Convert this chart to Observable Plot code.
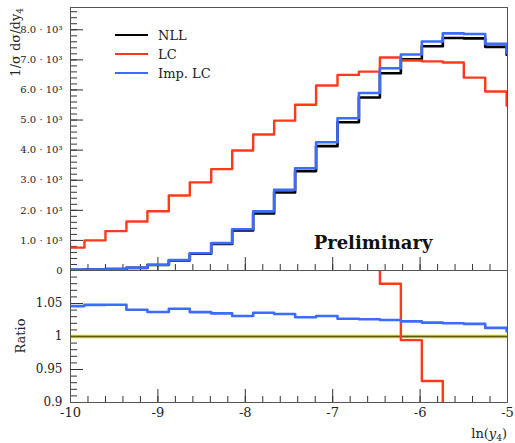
<!DOCTYPE html>
<html><head><meta charset="utf-8">
<script src="https://cdn.jsdelivr.net/npm/d3@7"></script>
<script src="https://cdn.jsdelivr.net/npm/@observablehq/plot@0.6"></script>
<style>
body{margin:0;background:#fff}
#chart{position:relative;width:515px;height:443px;font-family:"DejaVu Serif",serif}
#chart svg{position:absolute;left:0;overflow:visible}
</style></head><body><div id="chart"></div>
<script>
// bin edges in ln(y4)
const binEdges = [-10, -9.84, -9.60, -9.36, -9.12, -8.875, -8.635, -8.39, -8.15, -7.91, -7.67, -7.43, -7.19, -6.945, -6.70, -6.46, -6.22, -5.98, -5.74, -5.50, -5.255, -5.01, -5];
// 1/sigma dsigma/dy4 per bin
const nll   = [23.9, 33.4, 47.7, 86.5, 183.2, 335.9, 554.5, 879.2, 1328.8, 1896.7, 2591.9, 3304, 4132, 4927, 5750, 6556, 7019, 7453, 7725, 7713, 7433, 7173];
const lc    = [760, 1000, 1310, 1630, 1970, 2490, 2930, 3370, 3990, 4520, 4980, 5510, 6150, 6500, 6610, 7080, 6980, 6950, 6910, 6410, 5950, 5480];
const impLC = [25, 35, 50, 90, 190, 350, 575, 910, 1370, 1965, 2680, 3400, 4260, 5060, 5900, 6720, 7180, 7610, 7880, 7860, 7530, 7230];
// ticks
const xMajorTicks = [-10, -9, -8, -7, -6, -5];
const xMinorTicks = d3.range(-10, -5.001, 0.2);
const yMainTicks = [0, 1000, 2000, 3000, 4000, 5000, 6000, 7000, 8000];
const yMainMinor = d3.range(0, 8740, 200);
const yRatioTicks = [0.9, 0.95, 1, 1.05, 1.1];
const yRatioLabels = [0.9, 0.95, 1, 1.05];
const yRatioMinor = d3.range(0.9, 1.1001, 0.01);

const seriesNames = ["NLL", "LC", "Imp. LC"];
const seriesColors = ["#000000", "#ff3a1c", "#3b6cff"];

function steps(values) {
  const pts = values.map((v, i) => ({x: binEdges[i], y: v}));
  pts.push({x: binEdges[values.length], y: values[values.length - 1]});
  return pts;
}
const ratioImp = impLC.map((v, i) => v / nll[i]);
const ratioLC = lc.map((v, i) => v / nll[i]);
const ratioNLL = nll.map(() => 1);

const W = 515, ML = 70, MR = 8;
const PW = W - ML - MR;
const tickC = "#333";
const fmtMain = d => d === 0 ? "0" : `${(d / 1000).toFixed(1)} · 10³`;

const topH = 270, topMT = 7;
const topPH = topH - topMT;
const topPlot = Plot.plot({
  width: W, height: topH, marginLeft: ML, marginRight: MR, marginTop: topMT, marginBottom: 0,
  x: {domain: [-10, -5], axis: null},
  y: {domain: [0, 8740], axis: null},
  style: {fontFamily: "DejaVu Serif", background: "transparent", overflow: "visible"},
  marks: [
    Plot.ruleY(yMainMinor, {stroke: tickC, insetRight: PW - 7}),
    Plot.ruleY(yMainTicks, {stroke: tickC, insetRight: PW - 13}),
    Plot.ruleX(xMinorTicks, {stroke: tickC, insetTop: topPH - 6}),
    Plot.ruleX(xMajorTicks, {stroke: tickC, insetTop: topPH - 13}),
    Plot.axisY(yMainTicks, {tickSize: 0, tickPadding: 8, tickFormat: fmtMain, fontSize: 10, fill: "#222", label: null}),
    Plot.line(steps(nll), {x: "x", y: "y", curve: "step-after", stroke: seriesColors[0], strokeWidth: 2.6, clip: true}),
    Plot.line(steps(lc), {x: "x", y: "y", curve: "step-after", stroke: seriesColors[1], strokeWidth: 2.4, clip: true}),
    Plot.line(steps(impLC), {x: "x", y: "y", curve: "step-after", stroke: seriesColors[2], strokeWidth: 2.6, clip: true}),
    Plot.frame({stroke: "#555"})
  ]
});
topPlot.style.top = "0px";

const botH = 173, botMB = 41;
const botPH = botH - botMB;
const botPlot = Plot.plot({
  width: W, height: botH, marginLeft: ML, marginRight: MR, marginTop: 0, marginBottom: botMB,
  x: {domain: [-10, -5], axis: null},
  y: {domain: [0.9, 1.1], axis: null},
  style: {fontFamily: "DejaVu Serif", background: "transparent", overflow: "visible"},
  marks: [
    Plot.ruleY(yRatioMinor, {stroke: tickC, insetRight: PW - 7}),
    Plot.ruleY(yRatioTicks, {stroke: tickC, insetRight: PW - 13}),
    Plot.ruleX(xMinorTicks, {stroke: tickC, insetTop: botPH - 6}),
    Plot.ruleX(xMajorTicks, {stroke: tickC, insetTop: botPH - 13}),
    Plot.axisY(yRatioLabels, {tickSize: 0, tickPadding: 8, tickFormat: d => String(d), fontSize: 12, fill: "#222", label: null}),
    Plot.axisX(xMajorTicks, {tickSize: 0, tickPadding: 5, tickFormat: d => String(d), fontSize: 13, fill: "#222", label: null}),
    Plot.line(steps(ratioNLL), {x: "x", y: "y", curve: "step-after", stroke: "#d8d800", strokeWidth: 3.5, clip: true}),
    Plot.line(steps(ratioNLL), {x: "x", y: "y", curve: "step-after", stroke: "#5c5c00", strokeWidth: 1.3, clip: true}),
    Plot.line(steps(ratioLC), {x: "x", y: "y", curve: "step-after", stroke: seriesColors[1], strokeWidth: 2.4, clip: true}),
    Plot.line(steps(ratioImp), {x: "x", y: "y", curve: "step-after", stroke: seriesColors[2], strokeWidth: 2.6, clip: true}),
    Plot.frame({stroke: "#555"})
  ]
});
botPlot.style.top = "270px";

const chart = document.getElementById("chart");
chart.appendChild(topPlot);
chart.appendChild(botPlot);

// overlay: titles and legend
const ns = "http://www.w3.org/2000/svg";
const ov = document.createElementNS(ns, "svg");
ov.setAttribute("width", W); ov.setAttribute("height", 443);
ov.style.top = "0px";
ov.setAttribute("font-family", "DejaVu Serif");
ov.innerHTML = `
  <text transform="translate(20,8) rotate(-90)" text-anchor="end" font-size="13" fill="#222">1/σ dσ/dy<tspan font-size="9" dy="3">4</tspan></text>
  <text transform="translate(25,336) rotate(-90)" text-anchor="middle" font-size="13" fill="#222">Ratio</text>
  <text x="507" y="438" text-anchor="end" font-size="13" fill="#222">ln(<tspan font-style="italic">y</tspan><tspan font-size="9" dy="3">4</tspan><tspan dy="-3">)</tspan></text>
  <text x="373" y="249" text-anchor="middle" font-size="18" font-weight="bold" fill="#111">Preliminary</text>
`;
const g = document.createElementNS(ns, "g");
seriesNames.forEach((name, i) => {
  const y = 35 + i * 19;
  g.innerHTML += `<line x1="115" x2="148" y1="${y}" y2="${y}" stroke="${seriesColors[i]}" stroke-width="2.2"/>
    <text x="158" y="${y}" dy="0.35em" font-size="13" fill="#222">${name}</text>`;
});
ov.appendChild(g);
chart.appendChild(ov);
</script></body></html>
